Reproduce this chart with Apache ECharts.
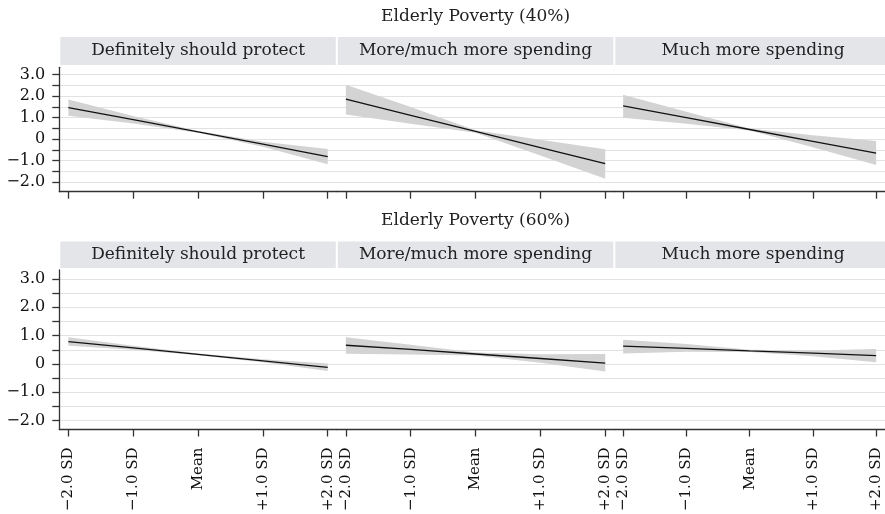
<!DOCTYPE html>
<html>
<head>
<meta charset="utf-8">
<script src="https://cdn.jsdelivr.net/npm/echarts@6/dist/echarts.min.js"></script>
<style>
  html, body { margin: 0; padding: 0; background: #fff; }
  #chart { width: 885px; height: 514px; }
</style>
</head>
<body>
<div id="chart"></div>
<script>
// Predictor positions (in SD units) and their axis labels
const sdValues = [-2, -1, 0, 1, 2];
const sdLabels = ['\u22122.0 SD', '\u22121.0 SD', 'Mean', '+1.0 SD', '+2.0 SD'];

// Facet headings
const rowTitles = ['Elderly Poverty (40%)', 'Elderly Poverty (60%)'];
const panelTitles = ['Definitely should protect', 'More/much more spending', 'Much more spending'];

// Y ticks every 0.5, labelled at whole numbers
const yTickValues = [-2, -1.5, -1, -0.5, 0, 0.5, 1, 1.5, 2, 2.5, 3];
const yLabelValues = [-2, -1, 0, 1, 2, 3];

// Elderly Poverty (40%) — fitted values and confidence bounds
const p40ProtectFit = [1.47, 0.91, 0.34, -0.23, -0.81];
const p40ProtectLo  = [1.09, 0.73, 0.30, -0.35, -1.17];
const p40ProtectHi  = [1.84, 1.08, 0.38, -0.12, -0.46];

const p40MoreFit = [1.86, 1.11, 0.36, -0.39, -1.14];
const p40MoreLo  = [1.15, 0.72, 0.30, -0.76, -1.84];
const p40MoreHi  = [2.53, 1.49, 0.42, -0.03, -0.47];

const p40MuchFit = [1.55, 1.00, 0.45, -0.10, -0.65];
const p40MuchLo  = [1.00, 0.72, 0.40, -0.38, -1.20];
const p40MuchHi  = [2.06, 1.28, 0.50, 0.18, -0.08];

// Elderly Poverty (60%) — fitted values and confidence bounds
const p60ProtectFit = [0.79, 0.57, 0.34, 0.11, -0.12];
const p60ProtectLo  = [0.64, 0.50, 0.31, 0.06, -0.25];
const p60ProtectHi  = [0.94, 0.64, 0.37, 0.16, 0.01];

const p60MoreFit = [0.66, 0.51, 0.35, 0.19, 0.03];
const p60MoreLo  = [0.36, 0.33, 0.30, 0.04, -0.27];
const p60MoreHi  = [0.94, 0.68, 0.40, 0.34, 0.35];

const p60MuchFit = [0.63, 0.55, 0.46, 0.38, 0.29];
const p60MuchLo  = [0.37, 0.43, 0.42, 0.27, 0.06];
const p60MuchHi  = [0.85, 0.70, 0.50, 0.47, 0.53];

const panels = [
  [ {fit: p40ProtectFit, lo: p40ProtectLo, hi: p40ProtectHi},
    {fit: p40MoreFit,    lo: p40MoreLo,    hi: p40MoreHi},
    {fit: p40MuchFit,    lo: p40MuchLo,    hi: p40MuchHi} ],
  [ {fit: p60ProtectFit, lo: p60ProtectLo, hi: p60ProtectHi},
    {fit: p60MoreFit,    lo: p60MoreLo,    hi: p60MoreHi},
    {fit: p60MuchFit,    lo: p60MuchLo,    hi: p60MuchHi} ]
];

// Layout
const FONT = '"DejaVu Serif", "Liberation Serif", serif';
const TEXT = '#222';
const colLeft = [59.3, 336.8, 614.3];
const colWidth = 277.5;
const rowLayout = [
  {top: 67.3, height: 124.4, yMin: -2.44, yMax: 3.34, titleY: 17, stripTop: 37, stripH: 28},
  {top: 270,  height: 160.7, yMin: -2.32, yMax: 3.32, titleY: 221, stripTop: 241.5, stripH: 26.5}
];

const grids = [], xAxes = [], yAxes = [], series = [], graphics = [];

rowLayout.forEach((row, r) => {
  graphics.push({
    type: 'text', silent: true,
    x: colLeft[0] + (colLeft[2] + colWidth - colLeft[0]) / 2, y: row.titleY,
    style: {text: rowTitles[r], font: '17px ' + FONT, fill: TEXT, textAlign: 'center', textVerticalAlign: 'middle'}
  });
  for (let c = 0; c < 3; c++) {
    const idx = r * 3 + c;
    grids.push({left: colLeft[c], top: row.top, width: colWidth, height: row.height, containLabel: false});

    graphics.push({
      type: 'rect', silent: true,
      shape: {x: colLeft[c] + 1, y: row.stripTop, width: colWidth - 2, height: row.stripH},
      style: {fill: '#e4e5e9'}
    });
    graphics.push({
      type: 'text', silent: true,
      x: colLeft[c] + colWidth / 2, y: row.stripTop + row.stripH / 2,
      style: {text: panelTitles[c], font: '17px ' + FONT, fill: TEXT, textAlign: 'center', textVerticalAlign: 'middle'}
    });

    xAxes.push({
      type: 'value', gridIndex: idx, min: -2.14, max: 2.14,
      axisLine: {show: true, onZero: false, lineStyle: {color: '#333', width: 1.3}},
      axisTick: {show: true, customValues: sdValues, length: 7, lineStyle: {color: '#333', width: 1.3}},
      axisLabel: {
        show: r === 1, customValues: sdValues, rotate: 90, margin: 18,
        fontFamily: FONT, fontSize: 15, color: '#111',
        formatter: v => sdLabels[sdValues.indexOf(Math.round(v))]
      },
      splitLine: {show: false}
    });

    yAxes.push({
      type: 'value', gridIndex: idx, min: row.yMin, max: row.yMax,
      axisLine: {show: c === 0, onZero: false, lineStyle: {color: '#333', width: 1.3}},
      axisTick: {show: c === 0, customValues: yTickValues, length: 7, lineStyle: {color: '#333', width: 1.3}},
      axisLabel: {
        show: c === 0, customValues: yLabelValues, margin: 14,
        fontFamily: FONT, fontSize: 16, color: '#111',
        formatter: v => (Math.abs(v) < 1e-9 ? '0' : (v < 0 ? '\u2212' : '') + Math.abs(v).toFixed(1))
      },
      splitLine: {show: true, lineStyle: {color: '#e2e2e2', width: 1.2}}
    });

    const p = panels[r][c];
    // Confidence band as a filled polygon through the library's coordinate system
    series.push({
      type: 'custom', xAxisIndex: idx, yAxisIndex: idx, silent: true, z: 2,
      data: sdValues.map((x, i) => [x, p.lo[i], p.hi[i]]),
      encode: {x: 0, y: [1, 2]},
      renderItem: (params, api) => {
        if (params.dataIndex !== 0) return null;
        const pts = [];
        sdValues.forEach((x, i) => pts.push(api.coord([x, p.hi[i]])));
        for (let i = sdValues.length - 1; i >= 0; i--) pts.push(api.coord([sdValues[i], p.lo[i]]));
        return {type: 'polygon', shape: {points: pts}, style: {fill: '#d3d3d3'}};
      }
    });
    series.push({
      type: 'line', xAxisIndex: idx, yAxisIndex: idx, silent: true, z: 3,
      data: sdValues.map((x, i) => [x, p.fit[i]]),
      symbol: 'none', animation: false,
      lineStyle: {color: '#111', width: 1.3}
    });
  }
});

const chart = echarts.init(document.getElementById('chart'), null, {renderer: 'canvas'});
chart.setOption({
  animation: false,
  backgroundColor: '#fff',
  grid: grids,
  xAxis: xAxes,
  yAxis: yAxes,
  series: series,
  graphic: graphics
});
</script>
</body>
</html>
